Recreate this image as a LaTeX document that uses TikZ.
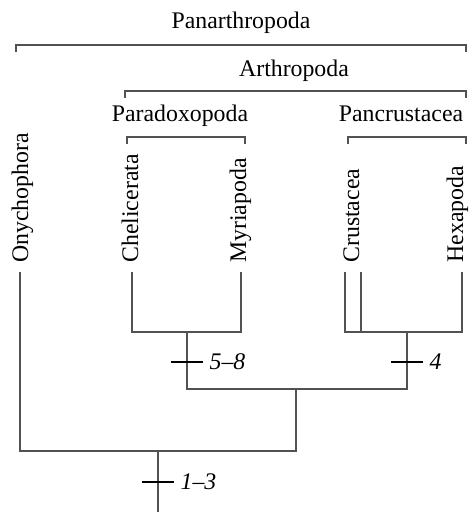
\documentclass[tikz,border=0pt]{standalone}
\usepackage{fontspec}
\setmainfont{Liberation Serif}
\begin{document}
\begin{tikzpicture}[
    x=0.5pt, y=-0.5pt,
    font=\fontsize{11.9}{14}\selectfont,
    taxon/.style={rotate=90, anchor=base west, inner sep=0pt},
    clade/.style={anchor=base, inner sep=0pt},
    branch/.style={line width=0.75pt, black!68},
    brace/.style={branch},
    synapo/.style={line width=0.6pt, black},
    syn/.style={anchor=west, inner sep=0pt, xshift=3pt, font=\fontsize{11.9}{14}\selectfont\itshape}
  ]
  \useasboundingbox (0,0) rectangle (468,513);

  % clade names and brackets
  \node[clade] (pan) at (241,29) {Panarthropoda};
  \node[clade] (art) at (294,77) {Arthropoda};
  \node[clade] (par) at (180,122) {Paradoxopoda};
  \node[clade] (pcr) at (401,122) {Pancrustacea};
  \foreach \a/\b/\y in {16/466/45, 125/466/91, 127/245/137, 348/466/137}
    \draw[brace] (\a,\y+7) -- (\a,\y) -- (\b,\y) -- (\b,\y+7);

  % terminal taxa
  \foreach \n/\x in {ony/20, che/132, myr/241, cru/345, crb/361, hex/462}
    \coordinate (\n) at (\x,272);
  \node[taxon] (l-ony) at (28,263) {Onychophora};
  \node[taxon] (l-che) at (138,263) {Chelicerata};
  \node[taxon] (l-myr) at (246,263) {Myriapoda};
  \node[taxon] (l-cru) at (359,263) {Crustacea};
  \node[taxon] (l-hex) at (463,263) {Hexapoda};

  % tree
  \coordinate (j1) at (187,332);
  \coordinate (j2) at (407,332);
  \coordinate (j3) at (296,389);
  \coordinate (j4) at (158,451);
  \coordinate (root) at (158,512);
  \draw[branch] (che) -- (che |- j1) -- (myr |- j1) -- (myr);
  \draw[branch] (cru) -- (cru |- j2) -- (hex |- j2) -- (hex);
  \draw[branch] (crb) -- (crb |- j2);
  \draw[branch] (j1) -- (j1 |- j3) -- (j2 |- j3) -- (j2);
  \draw[branch] (j3) -- (j3 |- j4) -- (ony |- j4) -- (ony);
  \draw[branch] (j4) -- (root);

  % synapomorphies
  \coordinate (s1) at (187,362);
  \coordinate (s2) at (407,362);
  \coordinate (s3) at (158,482);
  \foreach \s/\t in {s1/5--8, s2/4, s3/1--3}
    \draw[synapo] ([xshift=-8pt]\s) -- ([xshift=8pt]\s) node[syn] {\t};
\end{tikzpicture}
\end{document}
